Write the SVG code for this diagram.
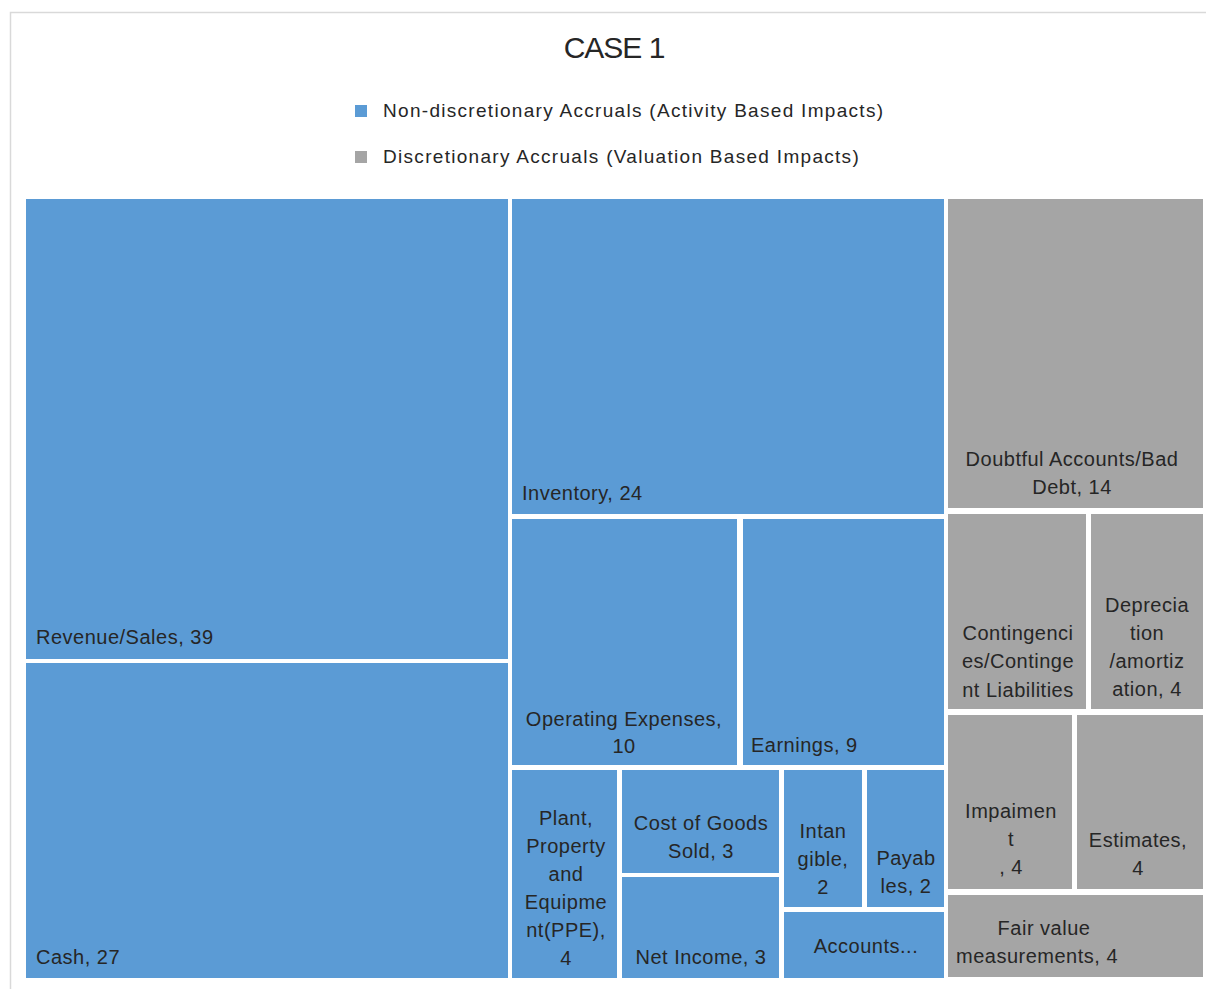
<svg xmlns="http://www.w3.org/2000/svg" width="1206" height="989" viewBox="0 0 1206 989">
<style>
.bg{fill:#ffffff}
.frame{fill:#ffffff;stroke:#d9d9d9;stroke-width:1.5}
.nd{fill:#5b9bd5}
.dc{fill:#a5a5a5}
.t{font-family:"Liberation Sans",Arial,sans-serif;font-size:20px;fill:#262626;letter-spacing:0.5px}
.c{text-anchor:middle}
.title{font-family:"Liberation Sans",Arial,sans-serif;font-size:30px;fill:#262626;text-anchor:middle;letter-spacing:-1px}
.leg{font-family:"Liberation Sans",Arial,sans-serif;font-size:19px;fill:#262626;letter-spacing:1.3px}
</style>
<rect class="bg" x="0" y="0" width="1206" height="989"/>
<rect class="frame" x="10.5" y="12.5" width="1230" height="1000"/>
<g id="title"><text class="title" x="614" y="58">CASE 1</text></g>
<g id="legend">
<rect class="nd" x="355" y="105" width="12" height="12"/>
<text class="leg" x="383" y="117">Non-discretionary Accruals (Activity Based Impacts)</text>
<rect class="dc" x="355" y="151" width="12" height="12"/>
<text class="leg" x="383" y="163">Discretionary Accruals (Valuation Based Impacts)</text>
</g>
<g id="revenue"><rect class="nd" x="26" y="199" width="482" height="460"/><text class="t" x="36" y="644">Revenue/Sales, 39</text></g>
<g id="cash"><rect class="nd" x="26" y="663" width="482" height="315"/><text class="t" x="36" y="964">Cash, 27</text></g>
<g id="inventory"><rect class="nd" x="512" y="199" width="432" height="315"/><text class="t" x="522" y="500">Inventory, 24</text></g>
<g id="opex"><rect class="nd" x="512" y="519" width="225" height="246"/><text class="t c" x="624" y="726">Operating Expenses,</text><text class="t c" x="624" y="753">10</text></g>
<g id="earnings"><rect class="nd" x="743" y="519" width="201" height="246"/><text class="t" x="751" y="752">Earnings, 9</text></g>
<g id="ppe"><rect class="nd" x="512" y="770" width="105" height="208"/>
<text class="t c" x="566" y="825">Plant,</text><text class="t c" x="566" y="853">Property</text><text class="t c" x="566" y="881">and</text><text class="t c" x="566" y="909">Equipme</text><text class="t c" x="566" y="937">nt(PPE),</text><text class="t c" x="566" y="965">4</text></g>
<g id="cogs"><rect class="nd" x="622" y="770" width="157" height="103"/><text class="t c" x="701" y="830">Cost of Goods</text><text class="t c" x="701" y="858">Sold, 3</text></g>
<g id="netincome"><rect class="nd" x="622" y="877" width="157" height="101"/><text class="t c" x="701" y="964">Net Income, 3</text></g>
<g id="intangible"><rect class="nd" x="784" y="770" width="78" height="137"/><text class="t c" x="823" y="838">Intan</text><text class="t c" x="823" y="866">gible,</text><text class="t c" x="823" y="894">2</text></g>
<g id="payables"><rect class="nd" x="867" y="770" width="77" height="137"/><text class="t c" x="906" y="865">Payab</text><text class="t c" x="906" y="893">les, 2</text></g>
<g id="accounts"><rect class="nd" x="784" y="912" width="160" height="66"/><text class="t c" x="866" y="953">Accounts...</text></g>
<g id="doubtful"><rect class="dc" x="948" y="199" width="255" height="309"/><text class="t c" x="1072" y="466">Doubtful Accounts/Bad</text><text class="t c" x="1072" y="494">Debt, 14</text></g>
<g id="contingencies"><rect class="dc" x="948" y="514" width="138" height="195"/><text class="t c" x="1018" y="640">Contingenci</text><text class="t c" x="1018" y="668">es/Continge</text><text class="t c" x="1018" y="697">nt Liabilities</text></g>
<g id="depreciation"><rect class="dc" x="1091" y="514" width="112" height="195"/><text class="t c" x="1147" y="612">Deprecia</text><text class="t c" x="1147" y="640">tion</text><text class="t c" x="1147" y="668">/amortiz</text><text class="t c" x="1147" y="696">ation, 4</text></g>
<g id="impairment"><rect class="dc" x="948" y="715" width="124" height="174"/><text class="t c" x="1011" y="818">Impaimen</text><text class="t c" x="1011" y="846">t</text><text class="t c" x="1011" y="874">, 4</text></g>
<g id="estimates"><rect class="dc" x="1077" y="715" width="126" height="174"/><text class="t c" x="1138" y="847">Estimates,</text><text class="t c" x="1138" y="875">4</text></g>
<g id="fairvalue"><rect class="dc" x="948" y="895" width="255" height="82"/><text class="t c" x="1044" y="935">Fair value</text><text class="t" x="956" y="963">measurements, 4</text></g>
<g id="connectors"/>
</svg>
